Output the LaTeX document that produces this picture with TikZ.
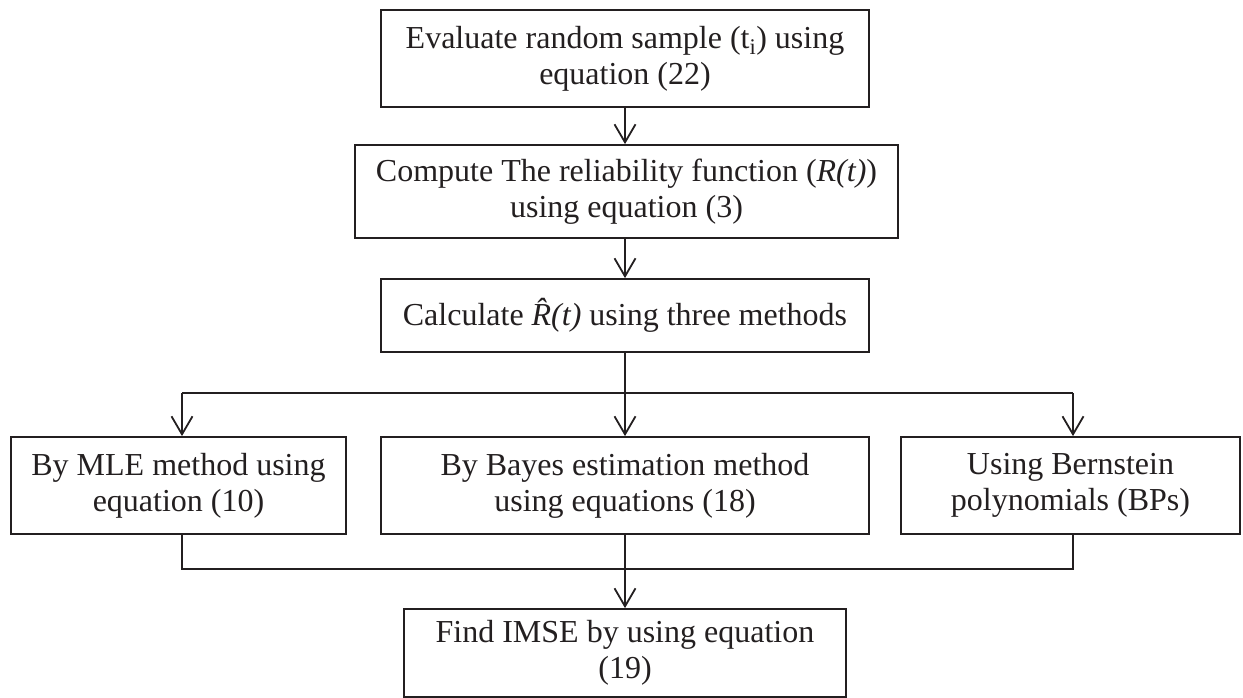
\documentclass[tikz,border=0pt]{standalone}
\usepackage{fontspec}
\setmainfont{Liberation Serif}
\usetikzlibrary{arrows.meta,calc}
\definecolor{ink}{RGB}{35,31,32}
\begin{document}
\begin{tikzpicture}[x=1pt,y=-1pt,
  box/.style={draw=ink, line width=1.8pt, inner sep=0pt, align=flush center, text=ink,
              font=\fontsize{32}{36}\selectfont},
  link/.style={draw=ink, line width=1.8pt},
  arr/.style={link, -{Straight Barb[length=18pt,width=21pt,line width=1.8pt]}}]
\useasboundingbox (0,0) rectangle (1243,698);

% main column
\node[box, text width=488pt, minimum height=97pt] (eval) at (625,58.5)
  {Evaluate random sample (t\textsubscript{i}) using\\equation (22)};
\node[box, text width=543pt, minimum height=93pt] (rel) at (626.5,191.5)
  {Compute The reliability function (\textit{R(t)})\\using equation (3)};
\node[box, text width=488pt, minimum height=73pt] (calc) at (625,315.5)
  {Calculate \textit{\^{R}(t)} using three methods};

% the three estimation methods
\node[box, text width=335pt, minimum height=97pt] (mle) at (178.5,485.5)
  {By MLE method using\\equation (10)};
\node[box, text width=488pt, minimum height=97pt] (bayes) at (625,485.5)
  {By Bayes estimation method\\using equations (18)};
\node[box, text width=339pt, minimum height=97pt] (bps) at (1070.5,485.5)
  {Using Bernstein\\polynomials (BPs)};

% result
\node[box, text width=442pt, minimum height=88pt] (imse) at (625,653)
  {Find IMSE by using equation\\(19)};

% routing points
\coordinate (lt) at (182,393);
\coordinate (rt) at (1073,393);
\coordinate (lb) at (182,569);
\coordinate (rb) at (1073,569);

% connectors
\draw[arr] (eval.south) -- (eval.south |- rel.north);
\draw[arr] (rel.south -| calc.north) -- (calc.north);
\draw[arr] (calc.south) -- (calc.south |- bayes.north);
\draw[link] (lt) -- (rt);
\draw[arr] (lt) -- (lt |- mle.north);
\draw[arr] (rt) -- (rt |- bps.north);
\draw[link] (lb |- mle.south) -- (lb) -- (rb) -- (rb |- bps.south);
\draw[arr] (bayes.south) -- (imse.north);
\end{tikzpicture}
\end{document}
